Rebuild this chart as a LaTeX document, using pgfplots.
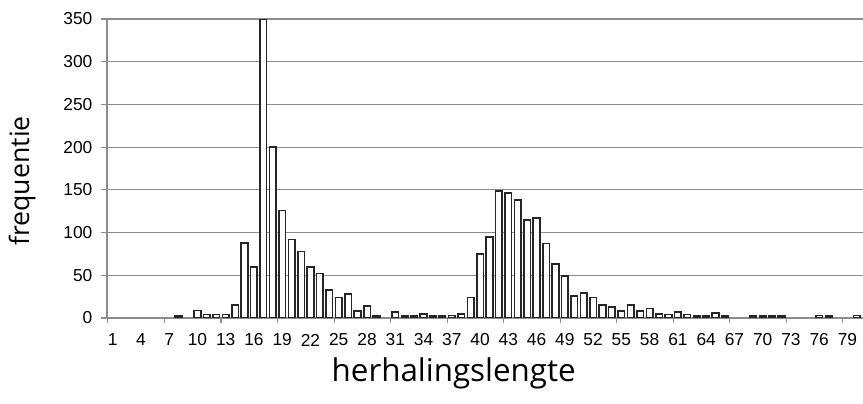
\documentclass[border=0pt]{standalone}
\usepackage{fontspec}
\setmainfont{Liberation Sans}
\newfontfamily\labelfont{Open Sans}
\usepackage{pgfplots}
\pgfplotsset{compat=1.18}

% frequency of each repeat length (zero lengths left out)
\pgfplotstableread{
len freq
8 2
10 9
11 4
12 4
13 4
14 15
15 88
16 60
17 350
18 200
19 126
20 92
21 78
22 60
23 52
24 33
25 24
26 28
27 8
28 14
29 2
31 7
32 2
33 2
34 5
35 2
36 2
37 3
38 5
39 24
40 75
41 95
42 149
43 146
44 138
45 115
46 117
47 87
48 63
49 49
50 26
51 29
52 24
53 15
54 13
55 8
56 15
57 8
58 11
59 5
60 4
61 7
62 4
63 2
64 2
65 6
66 2
69 2
70 2
71 2
72 2
76 3
77 2
80 3
}\freqdata

\begin{document}
\begin{tikzpicture}
\path[use as bounding box] (-80.25pt,-63.75pt) rectangle (567pt,238.5pt);
\begin{axis}[
    at={(0,0)}, anchor=south west,
    scale only axis,
    width=567pt, height=224.25pt,
    xmin=0.4, xmax=80.65,
    ymin=0, ymax=350,
    axis x line*=bottom, axis y line*=left,
    axis line style={draw=black!45, line width=0.8pt, -},
    ytick={0,50,...,350},
    ymajorgrids=true,
    grid style={draw=black!45, line width=0.8pt},
    ytick style={draw=black!45, line width=0.8pt},
    tick align=outside,
    major tick length=4.5pt,
    xtick={1,4,...,79},
    xtick style={draw=none},
    extra x ticks={0.5,6.5,...,78.5},
    extra x tick labels={},
    extra x tick style={xtick style={draw=black!45, line width=0.8pt}, major tick length=4pt},
    /pgf/number format/assume math mode=true,
    tick label style={font=\fontsize{13}{15}\selectfont, text=black},
    xticklabel style={anchor=center, yshift=-12pt},
    yticklabel style={anchor=east, xshift=-3pt},
    xlabel={herhalingslengte},
    ylabel={frequentie},
    xlabel style={font=\labelfont\fontsize{23.5}{28}\selectfont, at={(axis description cs:0.4586,-0.185)}, anchor=center},
    ylabel style={font=\labelfont\fontsize{20}{24}\selectfont, at={(axis description cs:-0.1124,0.458)}, anchor=center},
    clip=true,
]
\addplot[ybar, bar width=0.7, fill=white, draw=black!85, line width=1.2pt] table[x=len, y=freq] {\freqdata};
\end{axis}
\end{tikzpicture}
\end{document}
